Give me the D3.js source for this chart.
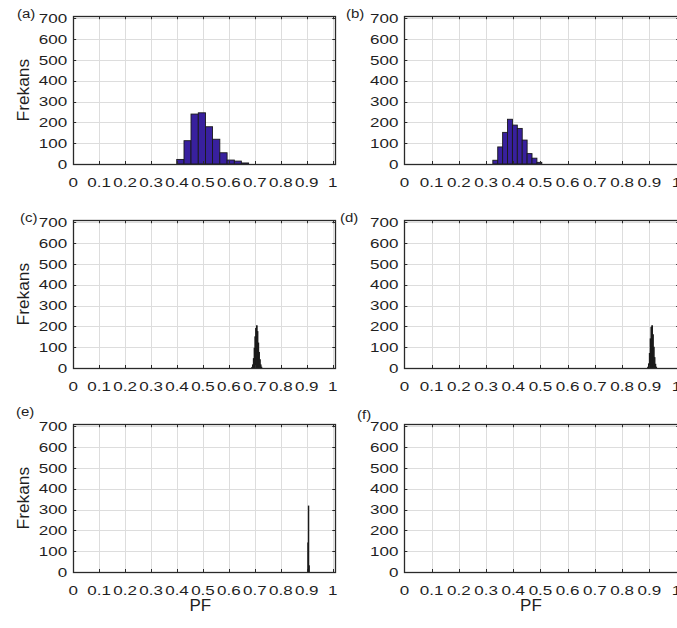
<!DOCTYPE html>
<html>
<head>
<meta charset="utf-8">
<script src="https://cdn.jsdelivr.net/npm/d3@7"></script>
<style>
  body { margin: 0; background: #fff; }
  svg text { font-family: "Liberation Sans", Arial, sans-serif; fill: #1f1f1f; }
</style>
</head>
<body>
<div class="chart"></div>
<script>
// axis ticks
const xTicks = [0, 0.1, 0.2, 0.3, 0.4, 0.5, 0.6, 0.7, 0.8, 0.9, 1]
const yTicks = [0, 100, 200, 300, 400, 500, 600, 700]
const xTickLabels = ["0", "0.1", "0.2", "0.3", "0.4", "0.5", "0.6", "0.7", "0.8", "0.9", "1"]
const panelLetters = ["(a)", "(b)", "(c)", "(d)", "(e)", "(f)"]
const yLabel = "Frekans"
const xLabel = "PF"

// histogram bin edges and counts
const edgesA = [0.399, 0.427, 0.454, 0.482, 0.510, 0.537, 0.565, 0.593, 0.621, 0.648, 0.676]
const countsA = [22, 112, 240, 246, 179, 119, 54, 19, 14, 5]

const edgesB = [0.325, 0.343, 0.361, 0.379, 0.397, 0.415, 0.433, 0.451, 0.469, 0.487, 0.505]
const countsB = [18, 82, 152, 215, 187, 171, 115, 50, 28, 8]

const edgesC = [0.688, 0.691, 0.694, 0.697, 0.700, 0.703, 0.706, 0.709, 0.712, 0.715, 0.718, 0.721, 0.724, 0.727]
const countsC = [3, 15, 45, 95, 150, 190, 203, 175, 120, 75, 40, 15, 4]

const edgesD = [0.894, 0.897, 0.900, 0.903, 0.906, 0.909, 0.912, 0.915, 0.918, 0.921, 0.924, 0.927]
const countsD = [4, 20, 70, 140, 195, 203, 160, 100, 50, 18, 4]

const edgesE = [0.904, 0.906, 0.908, 0.910]
const countsE = [140, 317, 30]

const edgesF = []
const countsF = []

const width = 677, height = 628

const svg = d3.select("div.chart").append("svg")
  .attr("width", width)
  .attr("height", height)

// layout of the six axes (pixels)
const colLeft = [73.2, 404.4]
const colUnit = [259.5, 272.1]
const rowBottom = [164, 368, 572]
const yUnit = 0.2081
const xMax = 1.01, yMax = 710

const panels = [
  {edges: edgesA, counts: countsA, fill: "#38209e", col: 0, row: 0, letter: [17, 17.6]},
  {edges: edgesB, counts: countsB, fill: "#38209e", col: 1, row: 0, letter: [346, 17.6]},
  {edges: edgesC, counts: countsC, fill: "#1e1e1e", col: 0, row: 1, letter: [20, 221.6]},
  {edges: edgesD, counts: countsD, fill: "#1e1e1e", col: 1, row: 1, letter: [340, 221.6]},
  {edges: edgesE, counts: countsE, fill: "#1e1e1e", col: 0, row: 2, letter: [16, 415.5]},
  {edges: edgesF, counts: countsF, fill: "#1e1e1e", col: 1, row: 2, letter: [357, 419]}
]

// text helper: the glyphs in the figure are wide, so stretch along the baseline
function addText(g, str, x, y, size, sx, anchor, rot) {
  let t = g.append("text")
    .attr("transform", `translate(${x},${y})` + (rot ? ` rotate(${rot})` : "") + ` scale(${sx},1)`)
    .attr("font-size", size)
    .attr("text-anchor", anchor)
    .text(str)
  return t
}

panels.forEach((p, i) => {
  let left = colLeft[p.col]
  let right = left + xMax * colUnit[p.col]
  let bottom = rowBottom[p.row]
  let top = bottom - yMax * yUnit

  let x = d3.scaleLinear().domain([0, xMax]).range([left, right])
  let y = d3.scaleLinear().domain([0, yMax]).range([bottom, top])

  let g = svg.append("g").attr("class", "panel")

  // grid
  g.append("g").selectAll("line.vg")
    .data(xTicks)
    .enter().append("line")
    .attr("x1", d => Math.round(x(d)) + 0.5).attr("x2", d => Math.round(x(d)) + 0.5)
    .attr("y1", top).attr("y2", bottom)
    .attr("stroke", "#dddddd")
  g.append("g").selectAll("line.hg")
    .data(yTicks)
    .enter().append("line")
    .attr("x1", left).attr("x2", right)
    .attr("y1", d => Math.round(y(d)) + 0.5).attr("y2", d => Math.round(y(d)) + 0.5)
    .attr("stroke", "#dddddd")

  // bars
  let bins = p.counts.map((c, k) => ({x0: p.edges[k], x1: p.edges[k + 1], n: c}))
  g.append("g").selectAll("rect")
    .data(bins)
    .enter().append("rect")
    .attr("x", d => x(d.x0))
    .attr("width", d => x(d.x1) - x(d.x0))
    .attr("y", d => y(d.n))
    .attr("height", d => y(0) - y(d.n))
    .attr("fill", p.fill)
    .attr("stroke", "#1a1a1a")
    .attr("stroke-width", 0.9)

  // box
  g.append("rect")
    .attr("x", Math.round(left) + 0.5).attr("y", Math.round(top) + 0.5)
    .attr("width", Math.round(right) - Math.round(left))
    .attr("height", Math.round(bottom) - Math.round(top))
    .attr("fill", "none")
    .attr("stroke", "#2a2a2a")
    .attr("stroke-width", 1.3)

  // inward ticks on all four sides
  let tl = 3
  let ticks = g.append("g").attr("stroke", "#2a2a2a")
  xTicks.forEach(t => {
    let xx = Math.round(x(t)) + 0.5
    ticks.append("line").attr("x1", xx).attr("x2", xx).attr("y1", bottom).attr("y2", bottom - tl)
    ticks.append("line").attr("x1", xx).attr("x2", xx).attr("y1", top).attr("y2", top + tl)
  })
  yTicks.forEach(t => {
    let yy = Math.round(y(t)) + 0.5
    ticks.append("line").attr("x1", left).attr("x2", left + tl).attr("y1", yy).attr("y2", yy)
    ticks.append("line").attr("x1", right).attr("x2", right - tl).attr("y1", yy).attr("y2", yy)
  })

  // tick labels
  xTicks.forEach((t, k) => {
    addText(g, xTickLabels[k], x(t), bottom + 22.7, 13.3, 1.28, "middle")
  })
  yTicks.forEach(t => {
    addText(g, String(t), left - 6, y(t) + 4.7, 13.3, 1.28, "end")
  })

  // panel letter
  addText(g, panelLetters[i], p.letter[0], p.letter[1], 12, 1.25, "start")

  // y label only on the left column
  if (p.col === 0) {
    addText(g, yLabel, 29, (top + bottom) / 2, 16.5, 1.05, "middle", -90)
  }
  // x label only on the bottom row
  if (p.row === 2) {
    let lx = p.col === 0 ? x(0.49) : x(0.465)
    addText(g, xLabel, lx, 611, 17, 1, "middle")
  }
})
</script>
</body>
</html>
